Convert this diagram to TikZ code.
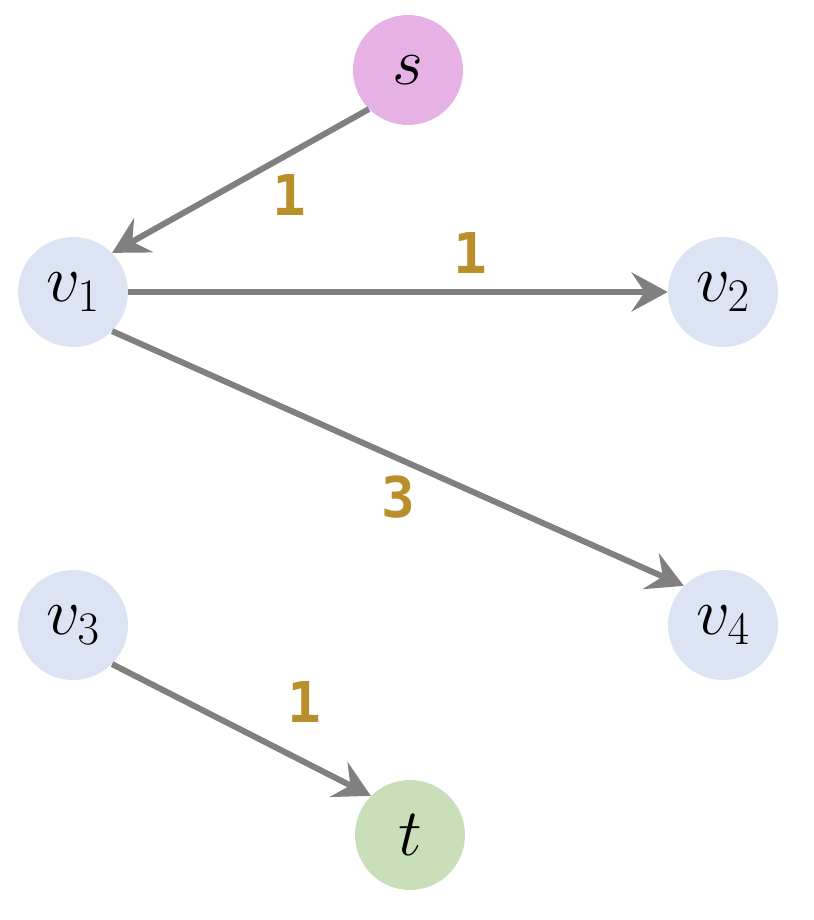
\RequirePackage{fix-cm}
\documentclass[tikz,border=0pt]{standalone}
\usepackage{amsmath}
\usepackage{fontspec}
\setmonofont{DejaVu Sans Mono}
\usepackage{tikz}
\usetikzlibrary{arrows.meta,positioning}
\definecolor{srcpink}{RGB}{230,178,230}
\definecolor{vtxblue}{RGB}{220,227,242}
\definecolor{sinkgreen}{RGB}{201,223,186}
\definecolor{edgegray}{RGB}{128,128,128}
\definecolor{wgold}{RGB}{185,143,44}

\begin{document}
\begin{tikzpicture}[
  x=0.02cm, y=-0.02cm,
  vtx/.style={circle, draw=none, fill=vtxblue, minimum size=2.2cm, inner sep=0pt, font=\fontsize{38}{44}\selectfont},
  arr/.style={-{Stealth[length=0.72cm, width=0.78cm, inset=0.26cm]}, draw=edgegray, line width=0.12cm},
  wlab/.style={font=\fontsize{32}{38}\selectfont\ttfamily\bfseries, text=wgold}
]
\useasboundingbox (0,0) rectangle (814,920);
\node[vtx, fill=srcpink] (s) at (408,70) {$s$};
\node[vtx] (v1) at (73,292) {$v_1$};
\node[vtx] (v2) at (723,292) {$v_2$};
\node[vtx] (v3) at (73,625) {$v_3$};
\node[vtx] (v4) at (723,625) {$v_4$};
\node[vtx, fill=sinkgreen] (t) at (410,835) {$t$};
\draw[arr] (s.225) -- (v1.45); \draw[arr] (v1) -- (v2); \draw[arr] (v1.-45) -- (v4.135); \draw[arr] (v3.-45) -- (t.135);
\node[wlab] (w1) at (289,195) {1};
\node[wlab] (w2) at (470,253) {1};
\node[wlab] (w3) at (398,497) {3};
\node[wlab] (w4) at (304,702) {1};
\end{tikzpicture}
\end{document}
